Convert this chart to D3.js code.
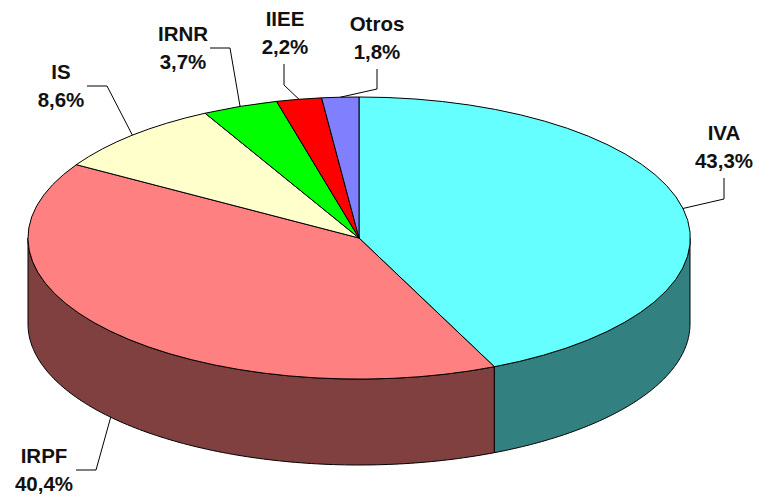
<!DOCTYPE html>
<html>
<head>
<meta charset="utf-8">
<script src="https://cdn.jsdelivr.net/npm/d3@7"></script>
<style>
  html, body { margin: 0; padding: 0; background: #fff; }
  svg { display: block; }
  text { font-family: "Liberation Sans", Arial, sans-serif; font-weight: bold; font-size: 20.5px; fill: #111; }
</style>
</head>
<body>
<div id="chart"></div>
<script>
// Data
const categories = ["IVA", "IRPF", "IS", "IRNR", "IIEE", "Otros"];
const shares = [43.3, 40.4, 8.6, 3.7, 2.2, 1.8];
const shareLabels = ["43,3%", "40,4%", "8,6%", "3,7%", "2,2%", "1,8%"];
const topColors = ["#66ffff", "#ff8080", "#ffffcc", "#00ff00", "#ff0000", "#8080ff"];
const sideColors = ["#338080", "#804040", "#808066", "#008000", "#800000", "#404080"];

// Pie geometry
const width = 759, height = 499;
const cx = 359, cy = 238, rx = 331, ry = 141, depth = 86;

// Label layout: elbow and end of each leader, label centre and first baseline
const labelLayout = [
  { elbow: [724, 199], end: [724, 178], x: 724, y: 140 },
  { elbow: [96, 470], end: [76, 470], x: 44, y: 463 },
  { elbow: [107, 86], end: [87, 86], x: 61, y: 79 },
  { elbow: [230, 48], end: [210, 48], x: 183, y: 41 },
  { elbow: [284, 85], end: [284, 64], x: 285, y: 26 },
  { elbow: [377, 89], end: [377, 69], x: 377, y: 31 }
];

const svg = d3.select("#chart")
  .append("svg")
  .attr("width", width)
  .attr("height", height);

const pie = d3.pie().sort(null).value(d => d);
const slices = pie(shares);

// angle is clockwise from 12 o'clock, like d3.pie
const px = a => cx + rx * Math.sin(a);
const py = a => cy - ry * Math.cos(a);

// Side wall, only the part of each slice that faces the viewer
const side = d3.area()
  .x(a => px(a))
  .y0(a => py(a))
  .y1(a => py(a) + depth);

slices.forEach((s, i) => {
  const a0 = Math.max(s.startAngle, Math.PI / 2);
  const a1 = Math.min(s.endAngle, Math.PI * 1.5);
  if (a1 <= a0) return;
  const n = 120;
  const angles = d3.range(n + 1).map(k => a0 + (a1 - a0) * k / n);
  svg.append("path")
    .attr("d", side(angles))
    .attr("fill", sideColors[i])
    .attr("stroke", "#000")
    .attr("stroke-width", 1)
    .attr("stroke-linejoin", "round");
});

// Top face: a unit pie squashed to the ellipse
const arc = d3.arc().innerRadius(0).outerRadius(1);

svg.append("g")
  .attr("transform", `translate(${cx},${cy}) scale(${rx},${ry})`)
  .selectAll("path")
  .data(slices)
  .enter().append("path")
  .attr("d", arc)
  .attr("fill", (d, i) => topColors[i])
  .attr("stroke", "#000")
  .attr("stroke-width", 1)
  .attr("stroke-linejoin", "round")
  .attr("vector-effect", "non-scaling-stroke");

// Leader lines start at the middle of each slice's rim
const leader = d3.line();

slices.forEach((s, i) => {
  const mid = (s.startAngle + s.endAngle) / 2;
  const onFront = Math.cos(mid) < 0;
  const start = [px(mid), py(mid) + (onFront ? depth : 0)];
  svg.append("path")
    .attr("d", leader([start, labelLayout[i].elbow, labelLayout[i].end]))
    .attr("fill", "none")
    .attr("stroke", "#000")
    .attr("stroke-width", 1);
});

// Labels
categories.forEach((name, i) => {
  const l = labelLayout[i];
  svg.append("text")
    .attr("x", l.x)
    .attr("y", l.y)
    .attr("text-anchor", "middle")
    .text(name);
  svg.append("text")
    .attr("x", l.x)
    .attr("y", l.y + 28)
    .attr("text-anchor", "middle")
    .text(shareLabels[i]);
});
</script>
</body>
</html>
